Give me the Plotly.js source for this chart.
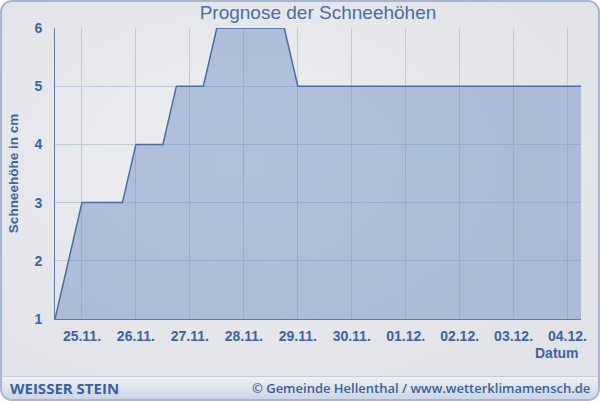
<!DOCTYPE html>
<html>
<head>
<meta charset="utf-8">
<script src="https://cdn.plot.ly/plotly-3.0.1.min.js"></script>
<style>
  html, body { margin: 0; padding: 0; background: #ffffff; }
  #wrap { position: relative; width: 600px; height: 401px; overflow: hidden; }
  #frame {
    position: absolute; left: 0; top: 0; width: 596px; height: 397px;
    border: 2px solid #a8b7d1; border-radius: 12px;
    background: radial-gradient(ellipse at 40% 40%, #eceef1 0%, #e3e5e9 60%, #dfe2e6 100%);
    overflow: hidden;
  }
  #banner {
    position: absolute; left: 0; bottom: 0; width: 596px; height: 22px;
    border-top: 1px solid #c3cde0;
    background: linear-gradient(#eef1f6, #ccd5e5);
  }
  #chart { position: absolute; left: 0; top: 0; width: 600px; height: 401px; }
</style>
</head>
<body>
<div id="wrap">
  <div id="frame"><div id="banner"></div></div>
  <div id="chart"></div>
</div>
<script>
// Data (vertices of the forecast curve)
const times = [
  '2023-11-24 12:00', '2023-11-25 00:00', '2023-11-25 18:00', '2023-11-26 00:00',
  '2023-11-26 12:00', '2023-11-26 18:00', '2023-11-27 06:00', '2023-11-27 12:00',
  '2023-11-28 18:00', '2023-11-29 00:00', '2023-12-04 06:00'
];
const snowDepth = [1, 3, 3, 4, 4, 5, 5, 6, 6, 5, 5];

const tickDates = ['2023-11-25', '2023-11-26', '2023-11-27', '2023-11-28', '2023-11-29',
                   '2023-11-30', '2023-12-01', '2023-12-02', '2023-12-03', '2023-12-04'];
const tickLabels = ['25.11.', '26.11.', '27.11.', '28.11.', '29.11.',
                    '30.11.', '01.12.', '02.12.', '03.12.', '04.12.'];
const yTicks = [1, 2, 3, 4, 5, 6];

const titleText = 'Prognose der Schneehöhen';
const yTitle = 'Schneehöhe in cm';
const xTitle = 'Datum';
const stationName = 'WEISSER STEIN';
const copyright = '© Gemeinde Hellenthal / www.wetterklimamensch.de';

const blue = '#3f63a3';

const trace = {
  x: times, y: snowDepth, type: 'scatter', mode: 'lines',
  fill: 'tozeroy',
  fillcolor: 'rgba(95,130,190,0.42)',
  line: { color: '#4a6ca8', width: 1.5 },
  hoverinfo: 'skip'
};

const layout = {
  width: 600, height: 401,
  margin: { l: 55, r: 19, t: 28, b: 82 },
  paper_bgcolor: 'rgba(0,0,0,0)',
  plot_bgcolor: 'rgba(0,0,0,0)',
  showlegend: false,
  font: { family: 'Liberation Sans, Arial, sans-serif', color: blue },
  title: { text: titleText, x: 0.5, xref: 'paper', xanchor: 'center', y: 0.97, yref: 'container', yanchor: 'middle',
           font: { size: 19, color: '#4a6ca8', family: 'Liberation Sans, Arial, sans-serif' } },
  xaxis: {
    type: 'date',
    range: ['2023-11-24 12:00', '2023-12-04 06:00'],
    tickmode: 'array', tickvals: tickDates, ticktext: tickLabels,
    showgrid: true, gridcolor: '#bccade', gridwidth: 1,
    showline: true, linecolor: '#5b7bb3', linewidth: 1,
    ticks: '', ticklabelstandoff: 4,
    tickfont: { size: 14, color: blue, family: 'Liberation Sans, Arial, sans-serif', weight: 'bold' },
    zeroline: false, fixedrange: true
  },
  yaxis: {
    range: [1, 6],
    tickmode: 'array', tickvals: yTicks,
    showgrid: true, gridcolor: '#bccade', gridwidth: 1,
    showline: true, linecolor: '#5b7bb3', linewidth: 1,
    ticks: '', ticklabelstandoff: 9,
    tickfont: { size: 14, color: blue, family: 'Liberation Sans, Arial, sans-serif', weight: 'bold' },
    title: { text: yTitle, standoff: 12, font: { size: 13.5, color: blue, family: 'Liberation Sans, Arial, sans-serif', weight: 'bold' } },
    zeroline: false, fixedrange: true
  },
  annotations: [
    { text: '<b>' + xTitle + '</b>', xref: 'paper', yref: 'paper', x: 1, y: -0.118, xanchor: 'right', yanchor: 'middle',
      showarrow: false, font: { size: 14, color: blue, family: 'Liberation Sans, Arial, sans-serif' } },
    { text: '<b>' + stationName + '</b>', xref: 'paper', yref: 'paper', x: (8 - 55) / 526, y: (319 - 388) / 291,
      xanchor: 'left', yanchor: 'middle', showarrow: false,
      font: { size: 15, color: '#3b5f9d', family: 'Open Sans, sans-serif' } },
    { text: copyright, xref: 'paper', yref: 'paper', x: (592 - 55) / 526, y: (319 - 388) / 291,
      xanchor: 'right', yanchor: 'middle', showarrow: false,
      font: { size: 13, color: '#3b5f9d', family: 'Open Sans, sans-serif', weight: 600 } }
  ]
};

Plotly.newPlot('chart', [trace], layout, { displayModeBar: false, staticPlot: true });
</script>
</body>
</html>
